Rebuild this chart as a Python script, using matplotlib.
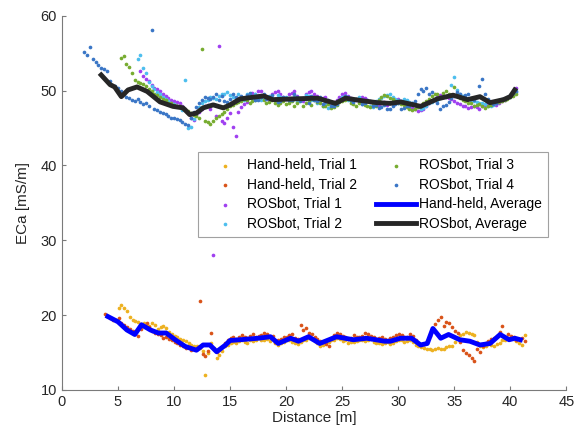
import numpy as np
import matplotlib
matplotlib.use('Agg')
import matplotlib.pyplot as plt

plt.rcParams['font.family'] = ['Liberation Sans', 'DejaVu Sans']

nan = np.nan

# hand-held sample positions [m] and ECa [mS/m], pass A
d_hh = [3.8, 4.3, 4.8, 5.3, 5.8, 6.3, 6.8, 7.3, 7.8, 8.3, 8.8, 9.3, 9.8, 10.3,
        10.8, 11.3, 11.8, 12.3, 12.8, 13.3, 13.8, 14.3, 14.8, 15.3, 15.8, 16.3,
        16.8, 17.3, 17.8, 18.3, 18.8, 19.3, 19.8, 20.3, 20.8, 21.3, 21.8, 22.3,
        22.8, 23.3, 23.8, 24.3, 24.8, 25.3, 25.8, 26.3, 26.8, 27.3, 27.8, 28.3,
        28.8, 29.3, 29.8, 30.3, 30.8, 31.3, 31.8, 32.3, 32.8, 33.3, 33.8, 34.3,
        34.8, 35.3, 35.8, 36.3, 36.8, 37.3, 37.8, 38.3, 38.8, 39.3, 39.8, 40.3,
        40.8, 41.3]
hh_trial1 = [nan, nan, nan, 21.3, 20.6, 19.4, 19.1, 18.9, 18.6, 18.7, 18.4, 18.3,
             17.4, 17.0, 16.6, 16.2, 15.9, 15.6, 12.0, 16.3, 14.3, 15.2, 16.0, 16.4,
             16.5, 16.4, 16.6, 16.6, 16.7, 16.8, 16.8, 16.0, 16.4, 16.6, 16.2, 16.4,
             16.7, 16.8, 16.2, 16.0, 16.4, 16.7, 16.8, 16.6, 16.4, 16.5, 16.6, 16.7,
             16.4, 16.2, 16.3, 16.1, 16.5, 16.6, 16.5, 16.4, 15.8, 15.6, 15.5, 15.4,
             15.5, 15.7, 15.9, 16.9, 17.5, 17.6, 17.3, 15.8, 15.9, 16.0, 16.1, 16.6,
             16.9, 16.8, 16.3, 17.3]
hh_trial2 = [20.2, 19.6, 19.4, 19.0, 18.4, 17.9, 17.2, 18.6, 18.4, 17.6, 17.3, 17.1,
             16.6, 16.3, 15.9, 15.7, 15.4, 21.9, 14.5, 17.6, 15.0, 15.7, 16.6, 17.0,
             17.1, 17.0, 17.2, 17.1, 17.3, 17.4, 17.2, 16.6, 17.0, 17.3, 16.9, 18.7,
             18.3, 17.4, 16.8, 16.4, 15.8, 17.3, 17.4, 17.0, 16.9, 17.1, 17.2, 17.4,
             17.0, 16.9, 16.8, 16.9, 17.3, 17.3, 17.1, 17.2, 16.3, 16.1, 17.2, 18.8,
             19.8, 19.1, 18.4, 17.6, 15.3, 14.6, 13.8, 15.1, 16.2, 16.8, 17.2, 18.6,
             17.4, 17.0, 16.8, 16.5]

# hand-held, pass B (in-between samples)
d_hh2 = [4.05, 4.55, 5.05, 5.55, 6.05, 6.55, 7.05, 7.55, 8.05, 8.55,
         9.05, 9.55, 10.05, 10.55, 11.05, 11.55, 12.05, 12.55, 13.05, 13.55,
         14.05, 14.55, 15.05, 15.55, 16.05, 16.55, 17.05, 17.55, 18.05, 18.55,
         19.05, 19.55, 20.05, 20.55, 21.05, 21.55, 22.05, 22.55, 23.05, 23.55,
         24.05, 24.55, 25.05, 25.55, 26.05, 26.55, 27.05, 27.55, 28.05, 28.55,
         29.05, 29.55, 30.05, 30.55, 31.05, 31.55, 32.05, 32.55, 33.05, 33.55,
         34.05, 34.55, 35.05, 35.55, 36.05, 36.55, 37.05, 37.55, 38.05, 38.55,
         39.05, 39.55, 40.05, 40.55, 41.05]
hh_trial1b = [nan, nan, 20.9, 21.0, 19.8, 19.2, 18.8, 18.5, 18.9, 18.2,
              18.6, 17.8, 17.2, 16.8, 16.5, 16.0, 15.8, 15.2, 14.9, 15.6,
              14.7, 15.8, 16.2, 16.3, 16.7, 16.3, 16.5, 16.9, 16.6, 16.5,
              16.2, 16.3, 16.7, 16.4, 16.1, 16.6, 16.9, 16.5, 15.9, 16.2,
              16.6, 16.9, 16.5, 16.2, 16.4, 16.7, 16.5, 16.8, 16.3, 16.1,
              16.4, 16.2, 16.7, 16.4, 16.6, 16.0, 15.7, 15.4, 15.3, 15.6,
              15.4, 15.8, 16.4, 17.3, 17.7, 17.4, 16.4, 15.7, 16.1, 15.9,
              16.3, 16.7, 17.0, 16.5, 16.0]
hh_trial2b = [19.9, 19.3, 19.6, 18.7, 18.1, 17.6, 18.1, 18.9, 17.9, 17.4,
              16.9, 16.8, 16.4, 16.0, 15.6, 15.3, 15.5, 14.8, 15.2, 15.4,
              15.3, 16.2, 16.9, 16.8, 17.3, 16.9, 17.4, 17.2, 17.6, 17.1,
              16.4, 16.8, 17.1, 17.5, 16.8, 18.0, 17.6, 17.0, 16.5, 16.1,
              16.9, 17.6, 17.2, 16.8, 17.3, 17.0, 17.6, 17.2, 16.8, 17.1,
              16.7, 17.0, 17.5, 17.0, 17.4, 16.6, 16.0, 16.5, 18.0, 19.3,
              18.6, 18.9, 17.9, 16.4, 14.9, 14.2, 15.5, 15.8, 16.5, 16.9,
              17.8, 17.1, 17.2, 16.6, 16.9]

# ROSbot sample positions [m] and ECa [mS/m], pass A
d_rb = [2.0, 2.5, 3.0, 3.5, 4.0, 4.5, 5.0, 5.5, 6.0, 6.5, 7.0, 7.5, 8.0, 8.5,
        9.0, 9.5, 10.0, 10.5, 11.0, 11.5, 12.0, 12.5, 13.0, 13.5, 14.0, 14.5,
        15.0, 15.5, 16.0, 16.5, 17.0, 17.5, 18.0, 18.5, 19.0, 19.5, 20.0, 20.5,
        21.0, 21.5, 22.0, 22.5, 23.0, 23.5, 24.0, 24.5, 25.0, 25.5, 26.0, 26.5,
        27.0, 27.5, 28.0, 28.5, 29.0, 29.5, 30.0, 30.5, 31.0, 31.5, 32.0, 32.5,
        33.0, 33.5, 34.0, 34.5, 35.0, 35.5, 36.0, 36.5, 37.0, 37.5, 38.0, 38.5,
        39.0, 39.5, 40.0, 40.5]
rb_trial1 = [nan, nan, nan, nan, nan, nan, nan, nan, nan, nan, 52.6, 51.5, 50.8,
             50.2, 49.6, 49.0, 48.6, 48.3, 47.6, 46.4, 46.8, 47.5, 48.1, 28.0, 56.0,
             45.7, 47.0, 43.9, 47.8, 48.5, 49.7, 49.9, 49.4, 48.6, 49.8, 49.5, 48.9,
             49.7, 49.3, 48.6, 49.8, 49.6, 48.8, 49.2, 48.3, 48.7, 49.5, 49.3, 48.8,
             48.6, 49.0, 48.5, 48.2, 48.4, 48.1, 48.6, 48.9, 48.3, 48.0, 47.5, 47.4,
             47.9, 48.6, 49.1, 49.3, 49.0, 48.6, 48.2, 47.9, 47.8, 47.8, 48.0, 48.3,
             48.2, 48.4, 48.8, 49.3, 50.4]
rb_trial2 = [nan, nan, nan, nan, nan, nan, nan, nan, nan, nan, 54.8, 52.4, 50.6,
             49.8, 49.2, 48.6, 48.2, 47.8, 51.4, 45.1, 47.0, 48.4, 48.8, 49.0, 49.3,
             49.6, 49.4, 49.0, 48.9, 49.6, 49.0, 49.3, 49.0, 49.3, 48.7, 49.1, 49.2,
             48.8, 48.5, 49.0, 49.3, 48.9, 48.6, 48.1, 47.9, 48.4, 49.1, 48.8, 48.6,
             49.1, 48.4, 48.0, 48.6, 49.0, 49.4, 49.2, 48.7, 48.9, 48.5, 48.1, 47.6,
             48.0, 48.5, 48.8, 49.1, 49.4, 51.8, 49.6, 49.1, 48.7, 48.5, 48.4, 48.0,
             48.1, 48.6, 48.9, 49.2, 49.8]
rb_trial3 = [nan, nan, nan, nan, nan, nan, nan, 54.6, 53.2, 51.4, 51.0, 50.6, 50.0,
             49.4, 48.9, 48.4, 48.1, 47.9, 47.5, 47.0, 46.6, 55.6, 45.8, 46.0, 46.6,
             47.2, 47.9, 48.3, 48.6, 48.8, 48.6, 48.9, 48.7, 48.5, 48.3, 48.4, 48.2,
             48.6, 48.4, 48.0, 48.6, 48.8, 48.3, 48.0, 47.7, 48.1, 48.6, 48.9, 48.2,
             48.4, 48.1, 47.8, 47.9, 49.1, 49.3, 48.9, 48.4, 48.1, 47.6, 47.6, 47.9,
             48.6, 49.3, 49.6, 49.7, 49.5, 50.5, 49.0, 48.6, 48.3, 48.1, 48.0, 47.9,
             48.3, 48.5, 48.7, 49.1, 49.6]
rb_trial4 = [55.2, 55.8, 53.9, 53.0, 52.6, 50.8, 50.3, 49.6, 49.0, 48.6, 48.5, 48.3,
             58.1, 47.4, 47.0, 46.6, 46.4, 46.1, 45.6, 46.3, 47.8, 48.7, 49.0, 49.2,
             48.8, 48.6, 48.9, 49.2, 49.3, 49.4, 49.1, 48.8, 49.5, 49.1, 48.9, 48.6,
             49.0, 48.7, 49.2, 48.9, 48.4, 48.8, 49.1, 48.5, 48.0, 48.2, 48.9, 49.2,
             48.5, 48.7, 48.3, 48.6, 48.1, 47.8, 47.6, 47.9, 48.3, 47.7, 47.9, 48.6,
             50.2, 50.4, 49.8, 48.4, 47.9, 48.5, 49.3, 49.6, 49.4, 49.0, 49.2, 51.5,
             48.9, 48.2, 48.7, 48.9, 49.4, 50.0]

# ROSbot, pass B (in-between samples)
d_rb2 = [2.25, 2.75, 3.25, 3.75, 4.25, 4.75, 5.25, 5.75, 6.25, 6.75,
         7.25, 7.75, 8.25, 8.75, 9.25, 9.75, 10.25, 10.75, 11.25, 11.75,
         12.25, 12.75, 13.25, 13.75, 14.25, 14.75, 15.25, 15.75, 16.25, 16.75,
         17.25, 17.75, 18.25, 18.75, 19.25, 19.75, 20.25, 20.75, 21.25, 21.75,
         22.25, 22.75, 23.25, 23.75, 24.25, 24.75, 25.25, 25.75, 26.25, 26.75,
         27.25, 27.75, 28.25, 28.75, 29.25, 29.75, 30.25, 30.75, 31.25, 31.75,
         32.25, 32.75, 33.25, 33.75, 34.25, 34.75, 35.25, 35.75, 36.25, 36.75,
         37.25, 37.75, 38.25, 38.75, 39.25, 39.75, 40.25]
rb_trial1b = [nan, nan, nan, nan, nan, nan, nan, nan, nan, nan,
              52.0, 51.3, 50.4, 49.9, 49.3, 48.8, 48.5, 48.0, 47.2, 46.1,
              47.1, 47.9, 47.5, 46.6, 45.9, 46.4, 45.1, 47.2, 48.2, 49.2,
              49.5, 50.0, 49.1, 49.6, 50.0, 49.2, 49.5, 49.9, 48.9, 49.6,
              50.0, 49.3, 49.0, 48.6, 48.5, 49.2, 49.7, 49.0, 48.7, 49.2,
              48.8, 48.3, 48.0, 48.5, 48.3, 48.8, 48.6, 48.1, 47.7, 47.3,
              47.6, 48.3, 48.8, 49.4, 49.1, 48.9, 48.4, 48.0, 47.7, 47.9,
              47.6, 48.1, 48.4, 48.1, 48.6, 49.0, 49.8]
rb_trial2b = [nan, nan, nan, nan, nan, nan, nan, nan, nan, 54.2,
              53.0, 51.2, 50.2, 49.5, 48.9, 48.4, 48.0, 47.4, 45.0, 46.2,
              47.8, 48.6, 49.2, 48.9, 49.5, 49.8, 49.2, 49.5, 48.7, 49.3,
              49.6, 48.8, 49.2, 49.0, 49.4, 48.9, 48.6, 49.1, 48.8, 49.4,
              48.7, 48.3, 48.0, 47.7, 48.2, 48.8, 49.3, 48.6, 48.9, 48.2,
              48.6, 47.8, 48.9, 49.3, 49.6, 48.9, 48.6, 48.8, 48.3, 47.9,
              47.7, 48.3, 48.7, 49.0, 49.3, 50.8, 50.1, 49.3, 48.9, 48.6,
              48.3, 48.2, 47.9, 48.4, 48.7, 49.0, 49.4]
rb_trial3b = [nan, nan, nan, nan, nan, nan, 54.4, 53.6, 52.4, 51.1,
              50.9, 50.2, 49.6, 49.1, 48.7, 48.3, 48.0, 47.7, 47.3, 46.8,
              46.4, 46.0, 45.6, 46.3, 46.9, 47.6, 48.1, 48.5, 48.9, 48.4,
              48.7, 49.1, 48.4, 48.8, 48.1, 48.6, 48.3, 48.0, 48.7, 48.4,
              48.1, 48.5, 47.9, 48.2, 47.8, 48.5, 48.8, 48.3, 48.0, 48.6,
              47.9, 48.2, 48.7, 49.4, 49.0, 48.6, 48.2, 47.8, 47.4, 47.8,
              48.3, 48.9, 49.5, 49.2, 49.9, 49.3, 49.6, 48.8, 48.4, 48.0,
              48.2, 47.7, 48.1, 48.4, 48.6, 48.9, 49.3]
rb_trial4b = [54.8, 54.3, 53.4, 52.9, 51.3, 50.6, 50.0, 49.2, 48.8, 48.9,
              48.2, 47.9, 47.5, 47.2, 46.9, 46.3, 46.2, 45.8, 45.4, 47.2,
              48.3, 49.1, 48.9, 49.5, 49.3, 48.5, 49.6, 48.8, 49.0, 49.7,
              48.7, 49.2, 48.9, 49.4, 48.5, 49.2, 48.8, 49.5, 48.6, 48.9,
              49.3, 48.6, 48.2, 48.8, 47.9, 48.6, 49.3, 48.7, 48.9, 48.2,
              48.8, 47.9, 47.7, 48.1, 47.5, 48.2, 47.6, 48.0, 48.4, 49.6,
              50.0, 49.6, 48.9, 47.6, 48.1, 49.0, 49.8, 49.2, 49.6, 48.8,
              50.6, 49.5, 48.5, 48.4, 48.9, 49.1, 49.7]

# averages
hh_avg_x = [4.1, 5.0, 5.8, 6.5, 7.1, 7.9, 8.6, 9.3, 10.1, 11.0, 12.0, 12.6, 13.2,
            13.8, 14.6, 15.0, 15.9, 17.5, 18.6, 19.3, 20.4, 21.1, 22.0, 23.0, 24.5,
            26.0, 27.2, 28.8, 29.3, 30.2, 31.2, 32.0, 32.6, 33.1, 33.8, 34.5, 35.5,
            36.4, 37.3, 38.2, 39.1, 39.9, 40.4, 40.9]
hh_avg_y = [19.8, 19.1, 18.0, 17.4, 18.7, 18.0, 17.6, 17.6, 16.7, 15.8, 15.3, 16.0,
            16.0, 15.1, 16.0, 16.6, 16.7, 16.9, 17.1, 16.2, 16.9, 16.5, 17.1, 16.2,
            17.1, 16.7, 16.9, 16.5, 16.5, 16.9, 16.9, 16.0, 16.2, 18.2, 16.9, 17.4,
            16.7, 16.5, 16.0, 16.2, 17.4, 16.7, 16.9, 16.7]
rb_avg_x = [3.5, 4.3, 4.7, 5.3, 5.9, 6.7, 7.6, 8.75, 9.9, 10.8, 11.4, 12.0, 12.6,
            13.5, 14.4, 15.0, 15.9, 18.0, 18.8, 20.6, 22.8, 24.4, 25.3, 26.6, 28.1,
            29.3, 30.2, 32.0, 33.5, 34.9, 36.2, 37.3, 38.2, 39.4, 40.0, 40.4]
rb_avg_y = [52.1, 50.8, 50.5, 49.2, 50.1, 50.5, 49.9, 48.5, 47.9, 47.7, 46.8, 47.0,
            47.7, 48.1, 47.7, 48.1, 48.9, 49.3, 48.8, 48.9, 49.0, 48.3, 49.0, 48.7,
            48.4, 48.3, 48.5, 47.9, 48.9, 49.4, 48.8, 49.2, 48.4, 48.8, 49.2, 50.1]

fig = plt.figure(figsize=(5.79, 4.41), dpi=100)
ax = fig.add_axes([0.107, 0.116, 0.871, 0.848])

pts = [(d_hh + d_hh2, hh_trial1 + hh_trial1b, '#EDB120', 'Hand-held, Trial 1'),
       (d_hh + d_hh2, hh_trial2 + hh_trial2b, '#D95319', 'Hand-held, Trial 2'),
       (d_rb + d_rb2, rb_trial1 + rb_trial1b, '#A040F0', 'ROSbot, Trial 1'),
       (d_rb + d_rb2, rb_trial2 + rb_trial2b, '#4DBEEE', 'ROSbot, Trial 2'),
       (d_rb + d_rb2, rb_trial3 + rb_trial3b, '#77AC30', 'ROSbot, Trial 3'),
       (d_rb + d_rb2, rb_trial4 + rb_trial4b, '#3A76C6', 'ROSbot, Trial 4')]
for d, v, c, lab in pts:
    ax.scatter(d, v, s=7, color=c, linewidths=0, label=lab, zorder=2)

ax.plot(hh_avg_x, hh_avg_y, color='#0000FF', lw=3.5, solid_joinstyle='round',
        label='Hand-held, Average', zorder=3)
ax.plot(rb_avg_x, rb_avg_y, color='#262626', lw=3.5, solid_joinstyle='round',
        label='ROSbot, Average', zorder=3)

ax.set_xlim(0, 45)
ax.set_ylim(10, 60)
ax.set_xticks(range(0, 46, 5))
ax.set_yticks(range(10, 61, 10))
ax.set_xlabel('Distance [m]', fontsize=11, color='#262626', labelpad=2)
ax.set_ylabel('ECa [mS/m]', fontsize=11, color='#262626', labelpad=8)
for s in ['top', 'right']:
    ax.spines[s].set_visible(False)
for s in ['left', 'bottom']:
    ax.spines[s].set_color('#7a7a7a')
    ax.spines[s].set_linewidth(0.8)
ax.tick_params(direction='in', length=3, width=0.8, color='#7a7a7a',
               labelsize=10.5, labelcolor='#262626')

leg = ax.legend(ncol=2, loc='upper left', bbox_to_anchor=(0.27, 0.636),
                fontsize=10, fancybox=False, edgecolor='#8a8a8a',
                handlelength=2.9, handletextpad=0.2, borderaxespad=0, borderpad=0.45,
                labelspacing=0.4, columnspacing=1.3, scatterpoints=1)
leg.get_frame().set_linewidth(0.8)

fig.savefig('out.png', dpi=100)
